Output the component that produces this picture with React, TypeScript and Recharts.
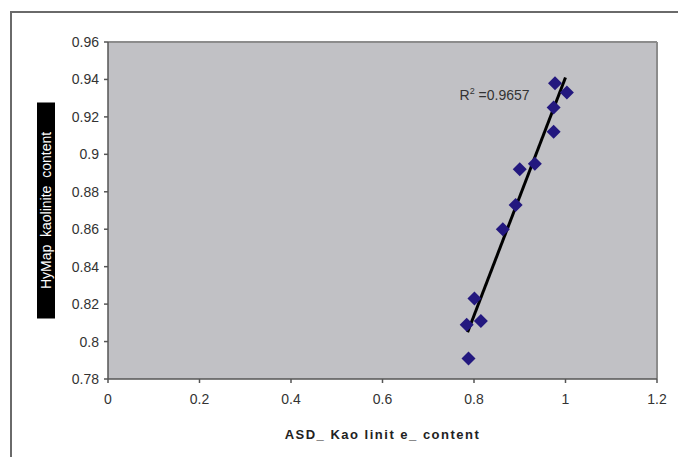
import React from "react";
import {
  CartesianGrid,
  ReferenceDot,
  ReferenceLine,
  Scatter,
  ScatterChart,
  XAxis,
  YAxis,
} from "recharts";

// ASD vs HyMap kaolinite content.
const asdValues = [0.977, 1.003, 0.974, 0.974, 0.933, 0.9, 0.891, 0.863, 0.801, 0.815, 0.784, 0.788];
const hymapValues = [0.938, 0.933, 0.925, 0.912, 0.895, 0.892, 0.873, 0.86, 0.823, 0.811, 0.809, 0.791];
const trendX = [0.786, 1.0];
const trendY = [0.805, 0.941];
const xTicks = [0, 0.2, 0.4, 0.6, 0.8, 1, 1.2];
const yTicks = [0.78, 0.8, 0.82, 0.84, 0.86, 0.88, 0.9, 0.92, 0.94, 0.96];
const r2Label = "0.9657";

const points = asdValues.map((x, i) => ({ x, y: hymapValues[i] }));

const FONT = "'Liberation Sans', Arial, sans-serif";

function Diamond(props: any) {
  const { cx, cy } = props;
  const s = 7;
  return (
    <polygon
      points={`${cx},${cy - s} ${cx + s},${cy} ${cx},${cy + s} ${cx - s},${cy}`}
      fill="#23187f"
    />
  );
}

function YLabel(props: any) {
  const vb = props.viewBox || { x: 0, y: 0, width: 0, height: 0 };
  const cx = 46;
  const cy = vb.y + vb.height / 2;
  return (
    <g>
      <rect x={cx - 9} y={cy - 108} width={18} height={216} fill="#000" />
      <text
        x={cx}
        y={cy}
        transform={`rotate(-90 ${cx} ${cy})`}
        textAnchor="middle"
        dominantBaseline="central"
        fill="#fff"
        fontSize={14}
        fontFamily={FONT}
        style={{ whiteSpace: "pre" }}
      >
        {"HyMap  kaolinite  content"}
      </text>
    </g>
  );
}

function R2Label(props: any) {
  const vb = props.viewBox || { x: 0, y: 0 };
  return (
    <text x={vb.x} y={vb.y} textAnchor="middle" fontSize={14} fontFamily={FONT} fill="#333">
      R<tspan dy={-6} fontSize={9}>2</tspan>
      <tspan dy={6}>{" =" + r2Label}</tspan>
    </text>
  );
}

export default function App() {
  return (
    <div style={{ position: "absolute", left: 0, top: 0, width: 678, height: 457, background: "#fff", overflow: "hidden" }}>
      <div
        style={{
          position: "absolute",
          left: 10,
          top: 11,
          width: 700,
          height: 470,
          borderLeft: "2px solid #6a6a6a",
          borderTop: "2px solid #6a6a6a",
        }}
      />
      <ScatterChart
        width={678}
        height={457}
        margin={{ top: 42, right: 21, bottom: 48, left: 48 }}
        style={{ position: "absolute", left: 0, top: 0, fontFamily: FONT }}
      >
        <CartesianGrid horizontal={false} vertical={false} fill="#c1c1c5" />
        <XAxis
          type="number"
          dataKey="x"
          domain={[0, 1.2]}
          ticks={xTicks}
          tickFormatter={(v) => String(v)}
          stroke="#555"
          strokeWidth={1.5}
          tickSize={4}
          tick={{ fill: "#333", fontSize: 14, dy: 9 }}
          height={30}
          interval={0}
          label={{
            value: "ASD_ Kao linit e_ content",
            position: "insideBottom",
            offset: -30,
            fill: "#222",
            fontSize: 13,
            fontWeight: "bold",
            style: { letterSpacing: 1.5, whiteSpace: "pre" },
          }}
        />
        <YAxis
          type="number"
          dataKey="y"
          domain={[0.78, 0.96]}
          ticks={yTicks}
          tickFormatter={(v) => String(Number(v.toFixed(2)))}
          stroke="#555"
          strokeWidth={1.5}
          tickSize={4}
          tick={{ fill: "#333", fontSize: 14, dx: -3 }}
          width={60}
          interval={0}
          label={<YLabel />}
        />
        <ReferenceLine y={0.96} stroke="#8c8c8c" strokeWidth={2} ifOverflow="visible" />
        <ReferenceLine x={1.2} stroke="#8c8c8c" strokeWidth={2} ifOverflow="visible" />
        <Scatter data={points} shape={<Diamond />} isAnimationActive={false} />
        <ReferenceLine
          segment={[
            { x: trendX[0], y: trendY[0] },
            { x: trendX[1], y: trendY[1] },
          ]}
          stroke="#000"
          strokeWidth={3}
        />
        <ReferenceDot x={0.845} y={0.929} r={0} fill="none" stroke="none" label={<R2Label />} />
      </ScatterChart>
    </div>
  );
}
